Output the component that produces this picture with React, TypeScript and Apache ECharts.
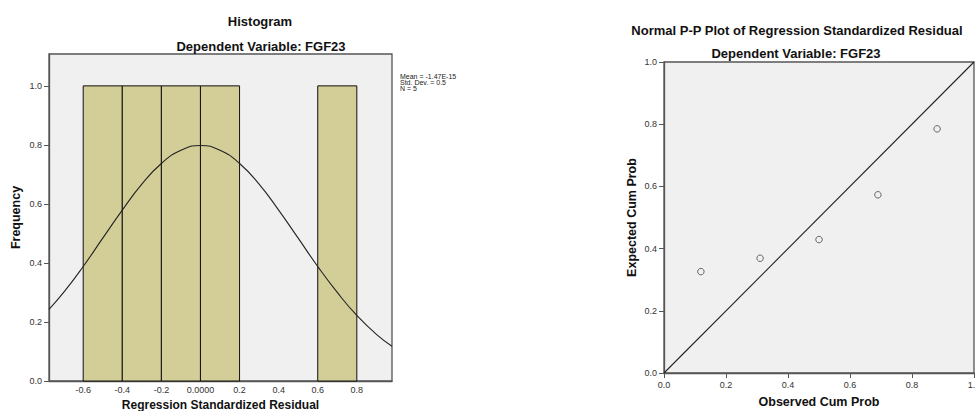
import React, { useEffect, useRef } from "react";
import * as echarts from "echarts";

// Histogram bins (regression standardized residual)
const binStart = [-0.6, -0.4, -0.2, 0.0, 0.6];
const binEnd = [-0.4, -0.2, 0.0, 0.2, 0.8];
const binCount = [1, 1, 1, 1, 1];

// Normal curve
const curveX = [-0.775, -0.7, -0.6, -0.5, -0.4, -0.3, -0.2, -0.1, 0.0, 0.1, 0.2, 0.3, 0.4, 0.5, 0.6, 0.7, 0.8, 0.9, 0.98];
const curveY = [0.243, 0.3, 0.388, 0.484, 0.579, 0.667, 0.737, 0.782, 0.798, 0.782, 0.737, 0.667, 0.579, 0.484, 0.388, 0.3, 0.222, 0.158, 0.118];

const histXTicks = [-0.6, -0.4, -0.2, 0.0, 0.2, 0.4, 0.6, 0.8];
const histXLabels = ["-0.6", "-0.4", "-0.2", "0.0000", "0.2", "0.4", "0.6", "0.8"];
const histYTicks = [0, 0.2, 0.4, 0.6, 0.8, 1.0];

const statsLines = ["Mean = -1.47E-15", "Std. Dev. = 0.5", "N = 5"];

// P-P plot
const ppObserved = [0.119, 0.31, 0.5, 0.69, 0.881];
const ppExpected = [0.326, 0.369, 0.429, 0.573, 0.785];
const refLine = [0, 1];

const FONT = "'Liberation Sans', Arial, sans-serif";

export default function App() {
  const ref = useRef<HTMLDivElement>(null);
  useEffect(() => {
    if (!ref.current) return;
    const chart = echarts.init(ref.current, null, { renderer: "svg" });
    const axisLineStyle = { color: "#555", width: 1.3 };
    const tickLabel = { fontSize: 9, color: "#333", fontFamily: FONT };
    const nameStyle = { fontSize: 12.5, fontWeight: "bold", color: "#111", fontFamily: FONT };
    const option: any = {
      animation: false,
      backgroundColor: "#ffffff",
      grid: [
        { left: 49, top: 54, width: 343, height: 327, show: true, backgroundColor: "#f0f0f0", borderColor: "#555", borderWidth: 1.3, outerBoundsMode: "none" },
        { left: 664, top: 62, width: 310, height: 311, show: true, backgroundColor: "#f0f0f0", borderColor: "#555", borderWidth: 1.3, outerBoundsMode: "none" },
      ],
      xAxis: [
        {
          gridIndex: 0, type: "value", min: -0.775, max: 0.98,
          axisLine: { show: true, onZero: false, lineStyle: axisLineStyle },
          axisTick: { show: false },
          splitLine: { show: false },
          axisLabel: {
            ...tickLabel, margin: 4, customValues: histXTicks,
            formatter: (v: number) => {
              const i = histXTicks.findIndex((t) => Math.abs(t - v) < 1e-6);
              return i >= 0 ? histXLabels[i] : "";
            },
          },
          name: "Regression Standardized Residual", nameLocation: "middle", nameGap: 12,
          nameTextStyle: { ...nameStyle, fontSize: 12 },
        },
        {
          gridIndex: 1, type: "value", min: 0, max: 1, interval: 0.2,
          axisLine: { show: true, onZero: false, lineStyle: axisLineStyle },
          axisTick: { show: true, length: 5, inside: false, lineStyle: { color: "#555" } },
          splitLine: { show: false },
          axisLabel: { ...tickLabel, margin: 7, alignMaxLabel: "center", alignMinLabel: "center", formatter: (v: number) => v.toFixed(1) },
          name: "Observed Cum Prob", nameLocation: "middle", nameGap: 22, nameTextStyle: nameStyle,
        },
      ],
      yAxis: [
        {
          gridIndex: 0, type: "value", min: 0, max: 1.108,
          axisLine: { show: true, onZero: false, lineStyle: axisLineStyle },
          axisTick: { show: true, length: 5, customValues: histYTicks, lineStyle: { color: "#555" } },
          splitLine: { show: false },
          axisLabel: { ...tickLabel, margin: 7, customValues: histYTicks, formatter: (v: number) => v.toFixed(1) },
          name: "Frequency", nameLocation: "middle", nameGap: 27, nameTextStyle: nameStyle,
        },
        {
          gridIndex: 1, type: "value", min: 0, max: 1, interval: 0.2,
          axisLine: { show: true, onZero: false, lineStyle: axisLineStyle },
          axisTick: { show: true, length: 5, lineStyle: { color: "#555" } },
          splitLine: { show: false },
          axisLabel: { ...tickLabel, margin: 7, formatter: (v: number) => v.toFixed(1) },
          name: "Expected Cum Prob", nameLocation: "middle", nameGap: 26, nameTextStyle: nameStyle,
        },
      ],
      series: [
        {
          type: "custom", xAxisIndex: 0, yAxisIndex: 0,
          data: binStart.map((s, i) => [s, binEnd[i], binCount[i]]),
          encode: { x: [0, 1], y: 2 },
          renderItem: (params: any, api: any) => {
            const a = api.coord([api.value(0), 0]);
            const b = api.coord([api.value(1), api.value(2)]);
            return {
              type: "rect",
              shape: { x: a[0], y: b[1], width: b[0] - a[0], height: a[1] - b[1] },
              style: { fill: "#d3ce97", stroke: "#111", lineWidth: 1 },
            };
          },
        },
        {
          type: "line", xAxisIndex: 0, yAxisIndex: 0, smooth: true, showSymbol: false,
          data: curveX.map((x, i) => [x, curveY[i]]),
          lineStyle: { color: "#222", width: 1.1 },
        },
        {
          type: "line", xAxisIndex: 1, yAxisIndex: 1, showSymbol: false,
          data: refLine.map((v) => [v, v]),
          lineStyle: { color: "#222", width: 1.1 },
        },
        {
          type: "scatter", xAxisIndex: 1, yAxisIndex: 1, symbol: "circle", symbolSize: 6.5,
          data: ppObserved.map((x, i) => [x, ppExpected[i]]),
          itemStyle: { color: "rgba(0,0,0,0)", borderColor: "#444", borderWidth: 1 },
        },
      ],
      graphic: [
        { type: "text", x: 260, y: 21, style: { text: "Histogram", font: `bold 13px ${FONT}`, fill: "#111", textAlign: "center", textVerticalAlign: "middle" } },
        { type: "text", x: 261, y: 46, style: { text: "Dependent Variable: FGF23", font: `bold 13px ${FONT}`, fill: "#111", textAlign: "center", textVerticalAlign: "middle" } },
        { type: "text", x: 797, y: 30, style: { text: "Normal P-P Plot of Regression Standardized Residual", font: `bold 13px ${FONT}`, fill: "#111", textAlign: "center", textVerticalAlign: "middle" } },
        { type: "text", x: 796, y: 53, style: { text: "Dependent Variable: FGF23", font: `bold 13px ${FONT}`, fill: "#111", textAlign: "center", textVerticalAlign: "middle" } },
        ...statsLines.map((t, i) => ({
          type: "text", x: 400, y: 76.5 + i * 6,
          style: { text: t, font: `7px ${FONT}`, fill: "#222", textAlign: "left", textVerticalAlign: "middle" },
        })),
      ],
    };
    chart.setOption(option);
    return () => chart.dispose();
  }, []);
  return <div ref={ref} style={{ position: "fixed", left: 0, top: 0, width: 975, height: 411 }} />;
}
